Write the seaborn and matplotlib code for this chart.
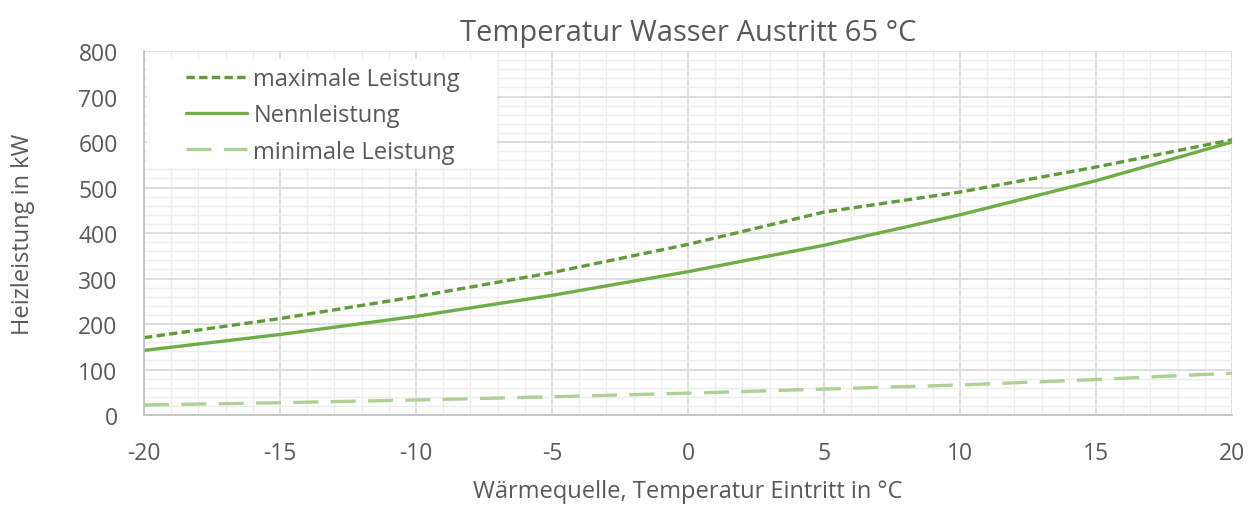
import numpy as np
import pandas as pd
import matplotlib.pyplot as plt
import seaborn as sns
from matplotlib.ticker import MultipleLocator
from matplotlib.patches import Rectangle

# values
temp = [-20, -15, -10, -5, 0, 5, 10, 15, 20]
max_leistung = [170, 212, 260, 313, 375, 446, 490, 545, 605]
nenn_leistung = [142, 177, 217, 263, 315, 373, 440, 515, 600]
min_leistung = [22, 27, 33, 40, 48, 57, 66, 78, 92]

series_names = ['maximale Leistung', 'Nennleistung', 'minimale Leistung']
colors = ['#5E9C3A', '#70AD47', '#AED293']

df = pd.DataFrame({
    'temp': temp * 3,
    'kw': max_leistung + nenn_leistung + min_leistung,
    'serie': [s for s in series_names for _ in temp],
})

sns.set_style('white')
plt.rcParams['font.family'] = ['Open Sans', 'DejaVu Sans']
plt.rcParams['axes.unicode_minus'] = False

fig = plt.figure(figsize=(12.58, 5.1), dpi=100)
ax = fig.add_axes([0.1145, 0.1843, 0.8648, 0.7137])

# minor + major grid
ax.xaxis.set_major_locator(MultipleLocator(5))
ax.xaxis.set_minor_locator(MultipleLocator(1))
ax.yaxis.set_major_locator(MultipleLocator(100))
ax.yaxis.set_minor_locator(MultipleLocator(20))
ax.grid(which='minor', color='#EDEDED', linewidth=1.0)
ax.grid(which='major', color='#D9D9D9', linewidth=1.2)
ax.set_axisbelow(True)

styles = {
    'maximale Leistung': (0, (2.5, 1.3)),
    'Nennleistung': '-',
    'minimale Leistung': (0, (7.5, 3.7)),
}
for name, col in zip(series_names, colors):
    sub = df[df['serie'] == name]
    sns.lineplot(data=sub, x='temp', y='kw', ax=ax, color=col, linewidth=2.4,
                 linestyle=styles[name], label=name)

ax.set_xlim(-20, 20)
ax.set_ylim(0, 800)

for side in ['top', 'right']:
    ax.spines[side].set_visible(False)
for side in ['left', 'bottom']:
    ax.spines[side].set_color('#BFBFBF')
    ax.spines[side].set_linewidth(1.2)

ax.tick_params(which='major', length=7, color='#BFBFBF', width=1.2,
               labelsize=16.5, labelcolor='#595959')
ax.tick_params(which='minor', length=0)
ax.tick_params(axis='y', pad=12)
ax.tick_params(axis='x', pad=12)

ax.set_title('Temperatur Wasser Austritt 65 °C', fontsize=21, color='#595959', pad=8)
ax.set_xlabel('Wärmequelle, Temperatur Eintritt in °C', fontsize=17, color='#595959', labelpad=10)
ax.set_ylabel('Heizleistung in kW', fontsize=17, color='#595959', labelpad=31)

# white legend box (Excel style, wide horizontal padding)
ax.add_patch(Rectangle((0.0028, 0.6786), 0.3217, 0.2995, transform=ax.transAxes,
                       facecolor='white', edgecolor='none', zorder=1.5))

leg = ax.legend(loc='upper left', bbox_to_anchor=(0.0386, 0.956), frameon=False,
                fontsize=17, handlelength=2.6, handletextpad=0.25,
                labelspacing=0.52, borderpad=0.0, borderaxespad=0.0)
for t in leg.get_texts():
    t.set_color('#595959')

fig.savefig('out.png', dpi=100)
